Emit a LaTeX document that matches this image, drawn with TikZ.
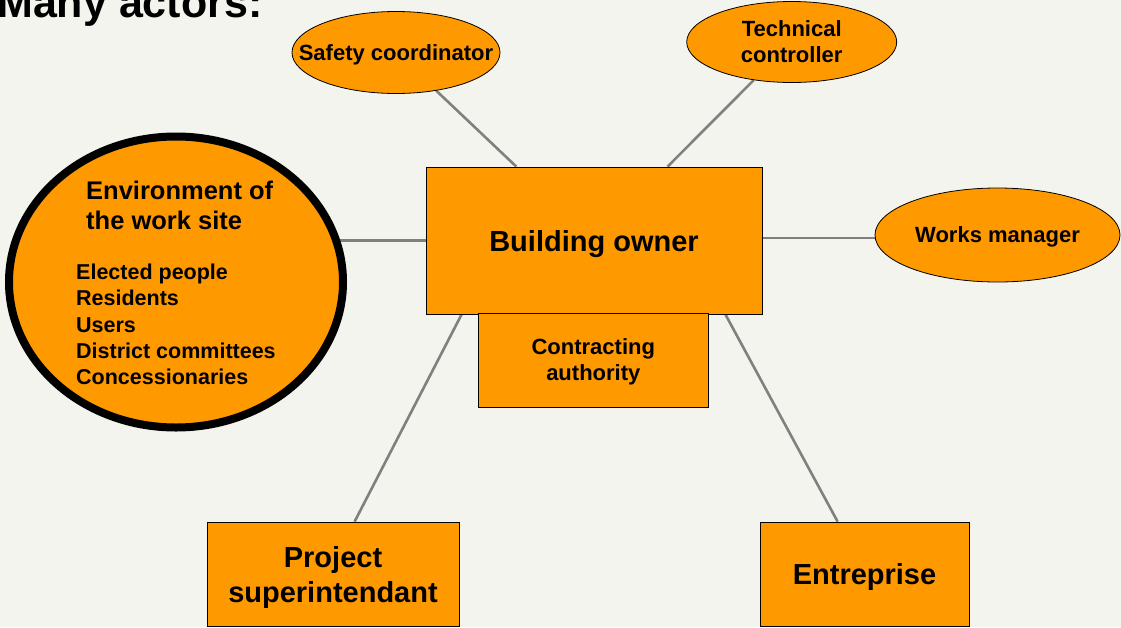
\documentclass[tikz,border=0pt]{standalone}
\usepackage{fontspec}
\setmainfont{Liberation Sans}
\usetikzlibrary{shapes.geometric,backgrounds,calc}
\definecolor{bgc}{RGB}{244,244,238}
\definecolor{org}{RGB}{255,153,0}
\definecolor{lnc}{RGB}{128,128,128}
\begin{document}
\begin{tikzpicture}[x=1pt,y=-1pt,
  oval/.style={ellipse,draw=black,line width=0.8pt,fill=org,inner sep=0pt,align=center,
    text depth=0pt,font=\bfseries\fontsize{22}{26}\selectfont},
  boxs/.style={rectangle,draw=black,line width=0.8pt,fill=org,inner sep=0pt,align=center,text depth=0pt},
  bigtxt/.style={font=\bfseries\fontsize{29}{35}\selectfont},
  midtxt/.style={font=\bfseries\fontsize{22}{26}\selectfont},
  envhead/.style={anchor=base west,inner sep=0pt,font=\bfseries\fontsize{25.5}{30}\selectfont},
  envitem/.style={anchor=base west,inner sep=0pt,font=\bfseries\fontsize{21.5}{26}\selectfont},
  link/.style={draw=lnc,line width=2.6pt}]
\useasboundingbox (0,0) rectangle (1121,627);

% title
\node[anchor=base west,inner sep=0pt,font=\bfseries\fontsize{43}{50}\selectfont] (title) at (-3,17.5) {Many actors:};

% central boxes
\node[boxs,bigtxt,minimum width=336pt,minimum height=147pt] (bo) at (594,240.5) {Building owner};
\node[boxs,midtxt,minimum width=230pt,minimum height=94pt] (ca) at (593.3,360) {Contracting\\authority};

% ellipses
\node[oval,minimum width=208pt,minimum height=82pt] (sc) at (396,52.5) {\makebox[0pt][c]{Safety coordinator}};
\node[oval,minimum width=210pt,minimum height=81pt] (tc) at (791.7,42) {Technical\\controller};
\node[oval,minimum width=245pt,minimum height=94pt] (wm) at (997.5,235) {\makebox[0pt][c]{Works manager}};

% bottom boxes
\node[boxs,bigtxt,minimum width=252pt,minimum height=104pt] (ps) at (333,574) {Project\\superintendant};
\node[boxs,bigtxt,minimum width=209pt,minimum height=104pt] (ent) at (864.5,574) {Entreprise};

% environment circle
\node[ellipse,draw=black,line width=8pt,fill=org,inner sep=0pt,
  minimum width=334pt,minimum height=291pt] (env) at (176,282) {};
\node[envhead] (eh1) at (86,199) {Environment of};
\node[envhead] (eh2) at (86,229.3) {the work site};
\foreach \t [count=\i from 0] in {Elected people,Residents,Users,District committees,Concessionaries}
  \node[envitem] (el\i) at (76,279.3+26.4*\i) {\t};

% background and connectors
\begin{scope}[on background layer]
  \fill[bgc] (0,0) rectangle (1121,627);
  \draw[link] (sc) -- (bo);
  \draw[link] (tc) -- (bo);
  \draw[link] ([yshift=2.5pt]bo.east) -- ([yshift=2.5pt]bo.east -| wm.center);
  \draw[link] (bo.west) -- (bo.west -| env.center);
  \draw[link] ($(bo.south west)+(36,0)$) -- ($(ps.north west)+(148,0)$);
  \draw[link] ($(bo.south east)+(-37,0)$) -- ($(ent.north west)+(78,0)$);
\end{scope}
\end{tikzpicture}
\end{document}
